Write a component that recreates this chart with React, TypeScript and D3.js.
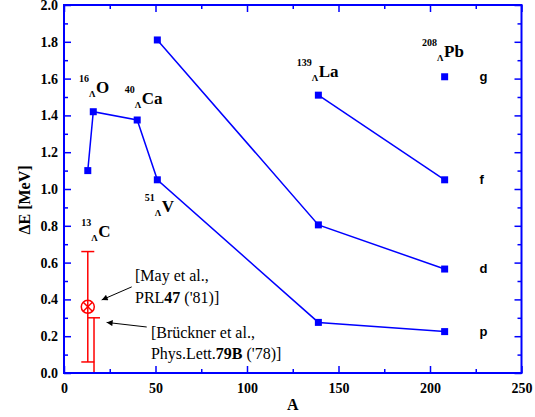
import { axisBottom, axisLeft, axisRight, axisTop, line, scaleLinear, select } from "d3";
import { useEffect, useRef } from "react";

// shell series: mass number A vs. splitting dE [MeV]
const pA = [13, 16, 40, 51, 139, 208];
const pE = [1.1, 1.42, 1.375, 1.05, 0.275, 0.225];
const dA = [51, 139, 208];
const dE = [1.81, 0.805, 0.565];
const fA = [139, 208];
const fE = [1.51, 1.05];
const gA = [208];
const gE = [1.61];

const shells = ["p", "d", "f", "g"];
const shellA = [pA, dA, fA, gA];
const shellE = [pE, dE, fE, gE];

// hypernucleus labels (text anchor in data units)
const nucMass = ["13", "16", "40", "51", "139", "208"];
const nucEl = ["C", "O", "Ca", "V", "La", "Pb"];
const nucA = [18.7, 17.5, 42.5, 53.4, 139.2, 207.7];
const nucE = [0.737, 1.52, 1.46, 0.873, 1.607, 1.716];

// 13C experiments
const mayA = 13;
const mayE = 0.36;
const mayLo = 0.06;
const mayHi = 0.66;
const brA = 16.4;
const brLo = 0;
const brHi = 0.3;

const xMajor = [0, 50, 100, 150, 200, 250];
const xMinor = [25, 75, 125, 175, 225];
const yMajor = [0, 0.2, 0.4, 0.6, 0.8, 1.0, 1.2, 1.4, 1.6, 1.8, 2.0];
const yMinor = [0.1, 0.3, 0.5, 0.7, 0.9, 1.1, 1.3, 1.5, 1.7, 1.9];

const BLUE = "#0000ff";
const RED = "#ff0000";
const SERIF = "Liberation Serif";
const SANS = "Liberation Sans";

export default function App() {
  const width = 535;
  const height = 417;
  const marginLeft = 64;
  const marginRight = 13.5;
  const marginTop = 5;
  const marginBottom = 44;

  const x = scaleLinear([0, 250], [marginLeft, width - marginRight]);
  const y = scaleLinear([0, 2], [height - marginBottom, marginTop]);

  const gx = useRef(null);
  const gxm = useRef(null);
  const gt = useRef(null);
  const gtm = useRef(null);
  const gy = useRef(null);
  const gym = useRef(null);
  const gr = useRef(null);
  const grm = useRef(null);

  useEffect(() => {
    const style = (g: any, labels: boolean) => {
      g.select(".domain").remove();
      g.selectAll("line").attr("stroke", BLUE).attr("stroke-width", 1.5);
      g.attr("font-family", null).attr("font-size", null);
      g.selectAll("text")
        .attr("fill", labels ? "#000" : "none")
        .style("font-family", SERIF)
        .style("font-size", "14px")
        .style("font-weight", "bold");
    };
    const none = () => "";
    style(select(gx.current).call(axisBottom(x).tickValues(xMajor).tickSize(-7).tickPadding(10) as any), true);
    style(select(gxm.current).call(axisBottom(x).tickValues(xMinor).tickSize(-4).tickFormat(none) as any), false);
    style(select(gt.current).call(axisTop(x).tickValues(xMajor).tickSize(-7).tickFormat(none) as any), false);
    style(select(gtm.current).call(axisTop(x).tickValues(xMinor).tickSize(-4).tickFormat(none) as any), false);
    style(
      select(gy.current).call(
        axisLeft(y).tickValues(yMajor).tickSize(-7).tickPadding(6).tickFormat((d: any) => d.toFixed(1)) as any
      ),
      true
    );
    style(select(gym.current).call(axisLeft(y).tickValues(yMinor).tickSize(-4).tickFormat(none) as any), false);
    style(select(gr.current).call(axisRight(y).tickValues(yMajor).tickSize(-7).tickFormat(none) as any), false);
    style(select(grm.current).call(axisRight(y).tickValues(yMinor).tickSize(-4).tickFormat(none) as any), false);
  }, [x, y]);

  const paths = shellA.map((As, k) => {
    const l = line<number>((a) => x(a), (_, i) => y(shellE[k][i]));
    return As.length > 1 ? l(As) : null;
  });

  const sq = 7;
  const r = 6.5;
  const mx = x(mayA);
  const my = y(mayE);
  const cap = (cx: number, cy: number, w: number) => (
    <line x1={cx - w / 2} x2={cx + w / 2} y1={cy} y2={cy} />
  );

  return (
    <svg width={width} height={height} style={{ position: "absolute", left: 0, top: 0 }}>
      <defs>
        <marker id="ah" viewBox="0 0 10 10" refX="10" refY="5" markerWidth="8" markerHeight="6" markerUnits="userSpaceOnUse" orient="auto">
          <path d="M0,0 L10,5 L0,10 z" fill="#000" />
        </marker>
      </defs>
      <rect x={0} y={0} width={width} height={height} fill="#fff" />

      {/* series */}
      {paths.map((d, k) => d && <path key={k} d={d} fill="none" stroke={BLUE} strokeWidth={1.5} />)}
      {shellA.map((As, k) =>
        As.map((a, i) => (
          <rect key={`${k}-${i}`} x={x(a) - sq / 2} y={y(shellE[k][i]) - sq / 2} width={sq} height={sq} fill={BLUE} />
        ))
      )}
      {shells.map((s, k) => (
        <text
          key={s}
          x={x(227)}
          y={y(shellE[k][shellE[k].length - 1])}
          dy="0.3em"
          style={{ fontFamily: SANS, fontWeight: "bold", fontSize: 13 }}
        >
          {s}
        </text>
      ))}

      {/* hypernucleus labels */}
      {nucEl.map((el, i) => (
        <g key={el} style={{ fontFamily: SERIF, fontWeight: "bold" }}>
          <text x={x(nucA[i]) - 7} y={y(nucE[i]) - 11.5} textAnchor="end" style={{ fontSize: 10 }}>
            {nucMass[i]}
          </text>
          <text x={x(nucA[i]) - 7} y={y(nucE[i]) + 4} style={{ fontSize: 9 }}>
            Λ
          </text>
          <text x={x(nucA[i])} y={y(nucE[i])} style={{ fontSize: 17 }}>
            {el}
          </text>
        </g>
      ))}

      {/* experiments on 13C */}
      <g stroke={RED} strokeWidth={1.5} fill="none">
        <line x1={mx} x2={mx} y1={y(mayLo)} y2={y(mayHi)} />
        {cap(mx, y(mayLo), 13)}
        {cap(mx, y(mayHi), 13)}
        <circle cx={mx} cy={my} r={r} />
        <line x1={mx - r * 0.7} x2={mx + r * 0.7} y1={my - r * 0.7} y2={my + r * 0.7} />
        <line x1={mx - r * 0.7} x2={mx + r * 0.7} y1={my + r * 0.7} y2={my - r * 0.7} />
        <line x1={x(brA)} x2={x(brA)} y1={y(brLo)} y2={y(brHi)} />
        {cap(x(brA), y(brHi), 12)}
      </g>

      <g stroke="#000" strokeWidth={1}>
        <line x1={x(37)} y1={y(0.468)} x2={x(20.6)} y2={y(0.397)} markerEnd="url(#ah)" />
        <line x1={x(45.2)} y1={y(0.25)} x2={x(23.3)} y2={y(0.275)} markerEnd="url(#ah)" />
      </g>
      <g style={{ fontFamily: SERIF, fontSize: 16 }} fill="#000">
        <text x={x(38.8)} y={y(0.5)}>[May et al.,</text>
        <text x={x(38.8)} y={y(0.38)}>
          PRL<tspan fontWeight="bold">47</tspan> ('81)]
        </text>
        <text x={x(47.5)} y={y(0.192)}>[Brückner et al.,</text>
        <text x={x(47.5)} y={y(0.076)}>
          Phys.Lett.<tspan fontWeight="bold">79B</tspan> ('78)]
        </text>
      </g>

      {/* axes */}
      <g ref={gx} transform={`translate(0,${height - marginBottom})`} />
      <g ref={gxm} transform={`translate(0,${height - marginBottom})`} />
      <g ref={gt} transform={`translate(0,${marginTop})`} />
      <g ref={gtm} transform={`translate(0,${marginTop})`} />
      <g ref={gy} transform={`translate(${marginLeft},0)`} />
      <g ref={gym} transform={`translate(${marginLeft},0)`} />
      <g ref={gr} transform={`translate(${width - marginRight},0)`} />
      <g ref={grm} transform={`translate(${width - marginRight},0)`} />
      <rect
        x={marginLeft}
        y={marginTop}
        width={width - marginLeft - marginRight}
        height={height - marginTop - marginBottom}
        fill="none"
        stroke={BLUE}
        strokeWidth={2}
      />

      <text
        transform={`translate(29.5,200) rotate(-90)`}
        textAnchor="middle"
        style={{ fontFamily: SERIF, fontWeight: "bold", fontSize: 16 }}
      >
        ΔE [MeV]
      </text>
      <text
        x={x(125)}
        y={410}
        textAnchor="middle"
        style={{ fontFamily: SERIF, fontWeight: "bold", fontSize: 16 }}
      >
        A
      </text>
    </svg>
  );
}
